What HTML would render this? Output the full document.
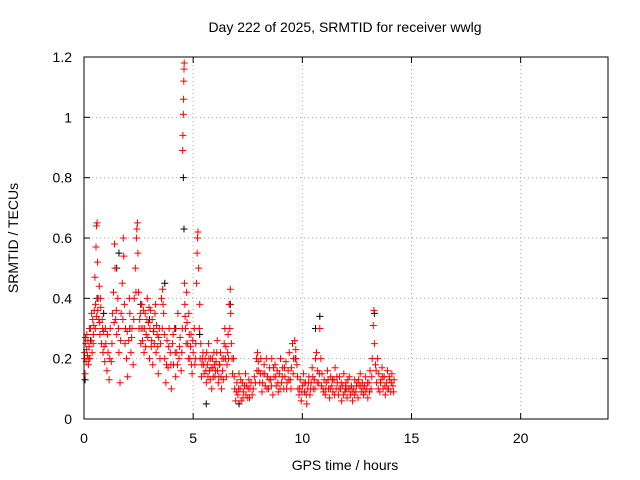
<!DOCTYPE html>
<html><head><meta charset="utf-8"><style>
body{margin:0;background:#fff}
svg{display:block;font-family:"Liberation Sans",sans-serif}
</style></head><body>
<svg id="chart" width="640" height="480">
<text x="345" y="32" font-size="14" text-anchor="middle">Day 222 of 2025, SRMTID for receiver wwlg</text>
<text x="345" y="470" font-size="14" text-anchor="middle">GPS time / hours</text>
<text transform="translate(18,238) rotate(-90)" font-size="14" text-anchor="middle">SRMTID / TECUs</text>
<g id="grid"></g>
<g id="ticks"></g>
<g id="marks"></g>
<rect x="84" y="57" width="524" height="362" fill="none" stroke="#000"/>
</svg>
<script>
const xTicks=[0,5,10,15,20];
const yTicks=[0,0.2,0.4,0.6,0.8,1,1.2];
const yTickLabels=["0","0.2","0.4","0.6","0.8","1","1.2"];
const blackPoints=[[0.05,.13],[0.3,.26],[0.9,.35],[1.5,.5],[2.1,.3],[2.6,.38],[3.7,.45],[4.2,.3],[4.55,.8],[4.58,.63],[5.3,.28],[5.6,.05],[6.7,.38],[7.1,.05],[9.7,.2],[10.8,.34],[10.6,.3],[12.0,.1],[13.3,.35],[1.6,.55],[3.0,.33],[0.6,.4]];
const redPoints=[[0.02,.22],[0.05,.15],[0.08,.25],[0.1,.19],[0.13,.28],[0.16,.21],[0.2,.18],[0.23,.24],[0.27,.2],[0.3,.3],[0.33,.26],[0.37,.22],[0.4,.33],[0.43,.28],[0.47,.36],[0.5,.47],[0.52,.3],[0.55,.57],[0.57,.64],[0.6,.65],[0.62,.52],[0.65,.4],[0.68,.33],[0.7,.44],[0.73,.28],[0.77,.37],[0.8,.25],[0.83,.33],[0.87,.22],[0.9,.29],[0.95,.19],[1.0,.25],[1.05,.16],[1.1,.22],[1.15,.13],[1.2,.3],[1.25,.19],[1.3,.35],[1.35,.42],[1.4,.58],[1.42,.5],[1.45,.33],[1.5,.28],[1.55,.4],[1.6,.22],[1.65,.12],[1.7,.35],[1.75,.45],[1.8,.6],[1.82,.54],[1.85,.38],[1.9,.3],[1.95,.2],[2.0,.14],[2.05,.26],[2.1,.35],[2.15,.22],[2.2,.3],[2.25,.18],[2.3,.4],[2.35,.5],[2.4,.6],[2.42,.63],[2.45,.65],[2.47,.55],[2.5,.42],[2.55,.33],[2.6,.25],[2.65,.38],[2.7,.3],[2.75,.22],[2.8,.35],[2.85,.28],[2.9,.4],[2.95,.32],[3.0,.2],[3.05,.36],[3.1,.26],[3.15,.18],[3.2,.3],[3.25,.35],[3.3,.22],[3.35,.28],[3.4,.15],[3.45,.3],[3.5,.25],[3.55,.4],[3.6,.43],[3.65,.35],[3.7,.2],[3.75,.12],[3.8,.26],[3.85,.17],[3.9,.3],[3.95,.22],[4.0,.1],[4.05,.25],[4.1,.18],[4.15,.3],[4.2,.14],[4.25,.22],[4.3,.35],[4.35,.2],[4.4,.27],[4.45,.16],[4.5,.3],[4.52,.89],[4.53,.94],[4.55,1.01],[4.56,1.06],[4.57,1.12],[4.58,1.16],[4.59,1.18],[4.6,.45],[4.62,.38],[4.65,.3],[4.7,.42],[4.75,.25],[4.8,.35],[4.85,.2],[4.9,.28],[4.95,.15],[5.0,.22],[5.05,.3],[5.1,.2],[5.15,.45],[5.18,.55],[5.2,.6],[5.22,.62],[5.25,.5],[5.3,.38],[5.35,.25],[5.4,.18],[5.45,.22],[5.5,.15],[5.55,.2],[5.6,.12],[5.65,.18],[5.7,.25],[5.75,.16],[5.8,.2],[5.85,.1],[5.9,.17],[5.95,.22],[6.0,.14],[6.05,.19],[6.1,.26],[6.15,.12],[6.2,.18],[6.25,.22],[6.3,.1],[6.35,.16],[6.4,.2],[6.45,.3],[6.5,.24],[6.55,.18],[6.6,.28],[6.65,.38],[6.7,.43],[6.72,.35],[6.75,.25],[6.8,.15],[6.85,.2],[6.9,.1],[6.95,.06],[7.0,.12],[7.05,.08],[7.1,.15],[7.15,.1],[7.2,.06],[7.25,.12],[7.3,.09],[7.4,.15],[7.45,.11],[7.5,.07],[7.55,.13],[7.6,.1],[7.7,.08],[7.8,.14],[7.9,.2],[7.95,.22],[8.0,.16],[8.05,.12],[8.1,.2],[8.15,.09],[8.2,.15],[8.25,.18],[8.3,.11],[8.35,.2],[8.4,.14],[8.45,.1],[8.5,.17],[8.55,.13],[8.6,.2],[8.65,.08],[8.7,.14],[8.75,.18],[8.8,.11],[8.85,.16],[8.9,.09],[8.95,.15],[9.0,.2],[9.05,.12],[9.1,.17],[9.15,.1],[9.2,.14],[9.25,.19],[9.3,.12],[9.35,.16],[9.4,.22],[9.45,.13],[9.5,.17],[9.55,.25],[9.6,.2],[9.65,.26],[9.7,.23],[9.75,.18],[9.8,.1],[9.85,.08],[9.9,.13],[9.95,.06],[10.0,.11],[10.05,.15],[10.1,.09],[10.15,.12],[10.2,.05],[10.25,.1],[10.3,.14],[10.35,.08],[10.4,.12],[10.45,.17],[10.5,.1],[10.55,.13],[10.6,.2],[10.65,.22],[10.7,.16],[10.75,.12],[10.8,.3],[10.85,.2],[10.9,.15],[10.95,.1],[11.0,.13],[11.05,.08],[11.1,.12],[11.15,.16],[11.2,.1],[11.25,.07],[11.3,.14],[11.35,.11],[11.4,.09],[11.45,.13],[11.5,.17],[11.55,.1],[11.6,.12],[11.65,.08],[11.7,.14],[11.75,.1],[11.8,.06],[11.85,.11],[11.9,.15],[11.95,.09],[12.0,.12],[12.05,.07],[12.1,.1],[12.15,.14],[12.2,.08],[12.25,.11],[12.3,.06],[12.35,.1],[12.4,.13],[12.45,.09],[12.5,.12],[12.55,.07],[12.6,.11],[12.65,.15],[12.7,.09],[12.75,.12],[12.8,.08],[12.85,.11],[12.9,.14],[12.95,.1],[13.0,.07],[13.05,.12],[13.1,.16],[13.15,.1],[13.2,.2],[13.25,.31],[13.28,.36],[13.3,.25],[13.35,.18],[13.4,.12],[13.45,.2],[13.5,.15],[13.55,.09],[13.6,.13],[13.65,.17],[13.7,.1],[13.75,.14],[13.8,.08],[13.85,.12],[13.9,.16],[13.95,.1],[14.0,.13],[14.05,.09],[14.1,.15],[14.15,.11],[14.2,.13]];
const redExtra=[[0.03,.2],[0.07,.27],[0.12,.23],[0.18,.26],[0.22,.2],[0.25,.3],[0.35,.35],[0.42,.25],[0.45,.31],[0.53,.38],[0.58,.34],[0.63,.36],[0.72,.32],[0.75,.4],[0.85,.3],[0.92,.24],[0.98,.3],[1.08,.28],[1.18,.2],[1.28,.25],[1.38,.32],[1.48,.36],[1.58,.3],[1.68,.26],[1.78,.33],[1.88,.25],[1.98,.29],[2.08,.4],[2.18,.27],[2.28,.33],[2.38,.42],[2.52,.3],[2.58,.35],[2.62,.3],[2.68,.26],[2.72,.36],[2.78,.3],[2.82,.24],[2.88,.33],[2.92,.27],[2.98,.37],[3.02,.3],[3.08,.24],[3.12,.33],[3.18,.29],[3.22,.25],[3.28,.38],[3.32,.31],[3.38,.24],[3.42,.27],[3.48,.2],[3.58,.3],[3.62,.38],[3.68,.28],[3.78,.18],[3.88,.24],[3.98,.18],[4.08,.28],[4.18,.22],[4.28,.18],[4.38,.24],[4.48,.22],[4.63,.34],[4.68,.25],[4.72,.32],[4.78,.2],[4.82,.28],[4.88,.24],[4.92,.18],[4.98,.26],[5.08,.18],[5.12,.25],[5.28,.3],[5.32,.2],[5.38,.14],[5.42,.2],[5.48,.18],[5.58,.16],[5.62,.22],[5.68,.14],[5.72,.2],[5.78,.13],[5.82,.17],[5.88,.2],[5.92,.14],[5.98,.18],[6.02,.16],[6.08,.22],[6.12,.16],[6.18,.14],[6.22,.18],[6.28,.14],[6.32,.2],[6.38,.13],[6.42,.25],[6.48,.2],[6.52,.14],[6.58,.22],[6.62,.2],[6.68,.3],[6.78,.2],[6.88,.14],[6.98,.09],[7.08,.1],[7.18,.13],[7.28,.07],[7.35,.11],[7.42,.08],[7.52,.1],[7.58,.07],[7.65,.12],[7.75,.1],[7.85,.12],[7.92,.16],[7.98,.19],[8.08,.15],[8.18,.12],[8.28,.15],[8.38,.1],[8.48,.13],[8.58,.11],[8.68,.17],[8.78,.14],[8.88,.12],[8.98,.1],[9.08,.14],[9.18,.17],[9.28,.1],[9.38,.13],[9.48,.1],[9.58,.15],[9.68,.2],[9.78,.14],[9.88,.1],[9.98,.09],[10.08,.12],[10.18,.08],[10.28,.12],[10.38,.1],[10.48,.14],[10.58,.1],[10.68,.12],[10.78,.15],[10.88,.11],[10.98,.09],[11.08,.1],[11.18,.13],[11.28,.1],[11.38,.13],[11.48,.08],[11.58,.14],[11.68,.1],[11.78,.12],[11.88,.08],[11.98,.11],[12.08,.13],[12.18,.1],[12.28,.09],[12.38,.08],[12.48,.11],[12.58,.13],[12.68,.11],[12.78,.1],[12.88,.09],[12.98,.12],[13.08,.09],[13.18,.14],[13.38,.16],[13.48,.1],[13.58,.12],[13.68,.14],[13.78,.11],[13.88,.1],[13.98,.14],[14.08,.12],[14.18,.09]];

const X0=84,X1=608,Y0=419,Y1=57;
function sx(t){return X0+(t/24)*(X1-X0);}
function sy(v){return Y0-(v/1.2)*(Y0-Y1);}
const NS="http://www.w3.org/2000/svg";
const grid=document.getElementById('grid'),ticks=document.getElementById('ticks'),marks=document.getElementById('marks');
function mk(tag,attrs,parent){const e=document.createElementNS(NS,tag);for(const k in attrs)e.setAttribute(k,attrs[k]);parent.appendChild(e);return e;}
xTicks.forEach(t=>{
  const x=sx(t);
  if(t>0){const g=mk('line',{x1:x,x2:x,y1:Y1,y2:Y0,stroke:'#aaa','stroke-dasharray':'1,3'},grid);
  
  }
  const l=mk('line',{x1:x,x2:x,y1:Y0,y2:Y0-6,stroke:'#000'},ticks);
  
  
  const l2=mk('line',{x1:x,x2:x,y1:Y1,y2:Y1+6,stroke:'#000'},ticks);
  
  
  const tx=mk('text',{x:x,y:Y0+24,'font-size':14,'text-anchor':'middle'},ticks);tx.textContent=t;
  
  
});
yTicks.forEach((v,i)=>{
  const y=sy(v);
  if(v>0&&v<1.2){const g=mk('line',{x1:X0,x2:X1,y1:y,y2:y,stroke:'#aaa','stroke-dasharray':'1,3'},grid);
  
  }
  const l=mk('line',{x1:X0,x2:X0+6,y1:y,y2:y,stroke:'#000'},ticks);
  
  
  const l2=mk('line',{x1:X1,x2:X1-6,y1:y,y2:y,stroke:'#000'},ticks);
  
  
  const tx=mk('text',{x:72,y:y+5,'font-size':14,'text-anchor':'end'},ticks);tx.textContent=yTickLabels[i];
  
  
});
function plus(p,color,name){
  const x=sx(p[0]),y=sy(p[1]);
  const e=mk('path',{d:`M${x-3.5},${y}h7M${x},${y-3.5}v7`,stroke:color,'stroke-width':1,fill:'none'},marks);
  
  
}
blackPoints.forEach(p=>plus(p,'#000','black-point'));
redPoints.forEach(p=>plus(p,'#f00','red-point'));
redExtra.forEach(p=>plus(p,'#f00','red-point'));
</script>
</body></html>
